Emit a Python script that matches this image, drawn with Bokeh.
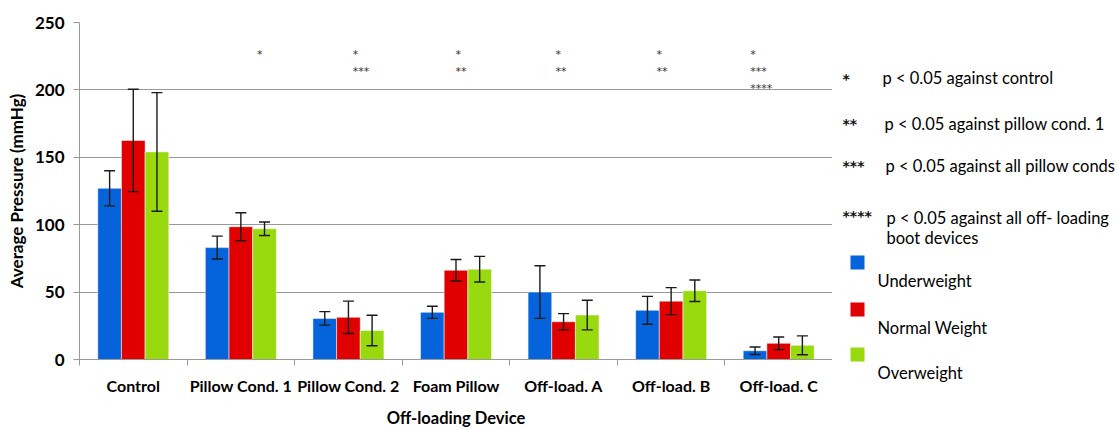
from bokeh.plotting import figure
from bokeh.layouts import row
from bokeh.models import ColumnDataSource, FixedTicker, Whisker, TeeHead, Range1d
from bokeh.transform import dodge
from bokeh.core.properties import value
from bokeh.embed import file_html
from bokeh.resources import INLINE

categories = ["Control", "Pillow Cond. 1", "Pillow Cond. 2", "Foam Pillow",
              "Off-load. A", "Off-load. B", "Off-load. C"]
series = ["Underweight", "Normal Weight", "Overweight"]
under = [127, 83, 30.5, 35, 50, 36.5, 6.5]
under_err = [13, 8.5, 5, 4.5, 19.5, 10.3, 2.8]
normal = [162.5, 98.5, 31.3, 66.2, 28, 43.3, 12]
normal_err = [38, 10.4, 12, 8, 6, 10, 4.7]
over = [154, 97, 21.5, 67, 33, 51, 10.5]
over_err = [44, 5, 11.3, 9.5, 11, 8, 7]
sig_marks = [[], ["*"], ["*", "***"], ["*", "**"], ["*", "**"], ["*", "**"], ["*", "***", "****"]]
notes = [("*", "p < 0.05 against control"),
         ("**", "p < 0.05 against pillow cond. 1"),
         ("***", "p < 0.05 against all pillow conds"),
         ("****", "p < 0.05 against all off- loading", "boot devices")]
y_ticks = [0, 50, 100, 150, 200, 250]

colors = ["#0563DB", "#E00000", "#99DA0E"]
FONT = "Lato"
STAR_FONT = "DejaVu Sans"
W1, W2, H = 832, 285, 430

xc = [i + 0.5 for i in range(len(categories))]
src = ColumnDataSource(dict(
    x=xc, under=under, normal=normal, over=over,
    u_lo=[v - e for v, e in zip(under, under_err)], u_hi=[v + e for v, e in zip(under, under_err)],
    n_lo=[v - e for v, e in zip(normal, normal_err)], n_hi=[v + e for v, e in zip(normal, normal_err)],
    o_lo=[v - e for v, e in zip(over, over_err)], o_hi=[v + e for v, e in zip(over, over_err)],
))

p = figure(width=W1, height=H, output_backend="svg", toolbar_location=None,
           x_range=Range1d(0, len(categories)), y_range=Range1d(0, 250),
           min_border_left=79, min_border_right=0, min_border_top=22, min_border_bottom=H - 363)
p.outline_line_color = None
p.frame_align = False

offsets = [-0.22, 0.0, 0.22]
fields = [("under", "u_lo", "u_hi"), ("normal", "n_lo", "n_hi"), ("over", "o_lo", "o_hi")]
for off, (f, lo, hi), c in zip(offsets, fields, colors):
    p.vbar(x=dodge("x", off, range=p.x_range), top=f, width=0.22, source=src,
           fill_color=c, line_color="#ffffff", line_alpha=0.5, line_width=1)
    p.add_layout(Whisker(source=src, base=dodge("x", off, range=p.x_range), lower=lo, upper=hi,
                         level="overlay", line_color="#1a1a1a", line_width=1.4,
                         upper_head=TeeHead(size=11, line_color="#1a1a1a", line_width=1.4),
                         lower_head=TeeHead(size=11, line_color="#1a1a1a", line_width=1.4)))

# significance marks above groups
mark_x = [None, 1.65, 2.54, 3.495, 4.425, 5.365, 6.235]
mark_y = [226, 213.5, 201]
mx_list, my_list, mt_list = [], [], []
for mx, marks in zip(mark_x, sig_marks):
    for j, m in enumerate(marks):
        mx_list.append(mx); my_list.append(mark_y[j]); mt_list.append(m)
p.text(x=mx_list, y=my_list, text=mt_list, text_font=value(STAR_FONT), text_font_size="11px",
       text_baseline="middle", text_align="left", text_color="#333333")

# axes
p.xaxis.ticker = FixedTicker(ticks=xc, minor_ticks=list(range(len(categories) + 1)))
p.xaxis.major_label_overrides = {x: c for x, c in zip(xc, categories)}
p.xaxis.major_tick_line_color = None
p.xaxis.major_tick_in = 0
p.xaxis.major_tick_out = 6
p.xaxis.minor_tick_in = 0
p.xaxis.minor_tick_out = 6
p.xaxis.minor_tick_line_color = "#999999"
p.xaxis.axis_line_color = "#999999"
p.xaxis.major_label_standoff = 10
p.xaxis.axis_label = "Off-loading Device"
p.xaxis.axis_label_standoff = 10

p.yaxis.ticker = FixedTicker(ticks=y_ticks)
p.yaxis.minor_tick_line_color = None
p.yaxis.major_tick_in = 0
p.yaxis.major_tick_out = 6
p.yaxis.major_tick_line_color = "#999999"
p.yaxis.axis_line_color = "#999999"
p.yaxis.major_label_standoff = 9
p.yaxis.axis_label = "Average Pressure (mmHg)"
p.yaxis.axis_label_standoff = 5

for ax in (p.xaxis, p.yaxis):
    ax.major_label_text_font = FONT
    ax.major_label_text_font_style = "bold"
    ax.major_label_text_color = "#000000"
    ax.axis_label_text_font = FONT
    ax.axis_label_text_font_style = "bold"
    ax.axis_label_text_color = "#000000"
p.xaxis.major_label_text_font_size = "16px"
p.yaxis.major_label_text_font_size = "17px"
p.xaxis.axis_label_text_font_size = "16.5px"
p.yaxis.axis_label_text_font_size = "17px"

p.xgrid.grid_line_color = None
p.ygrid.grid_line_color = "#999999"
p.ygrid.grid_line_width = 1

# side legend as its own panel, in page-pixel coordinates
q = figure(width=W2, height=H, output_backend="svg", toolbar_location=None,
           x_range=Range1d(W1, W1 + W2), y_range=Range1d(H, 0),
           x_axis_type=None, y_axis_type=None, min_border=0)
q.grid.visible = False
q.outline_line_color = None
q.frame_align = False

note_rows = [(78, 77), (123, 123), (165, 165), (215, 217)]
note_text_x = [882, 884, 885, 886]
sx, sy, st, tx_, ty_, tt_ = [], [], [], [], [], []
for (ys, yt), tx, note in zip(note_rows, note_text_x, notes):
    sx.append(842); sy.append(ys); st.append(note[0])
    tx_.append(tx); ty_.append(yt); tt_.append(note[1])
    if len(note) > 2:
        tx_.append(tx); ty_.append(yt + 20); tt_.append(note[2])
q.text(x=sx, y=sy, text=st, text_font=value(STAR_FONT), text_font_size="14px", text_font_style="bold",
       text_baseline="middle", text_color="#111111")
q.text(x=tx_, y=ty_, text=tt_, text_font=value(FONT), text_font_size="16.5px",
       text_baseline="middle", text_color="#000000")

sq_tops = [255, 302, 347]
lab_y = [280, 327, 372]
q.quad(left=[850] * 3, right=[864] * 3, top=sq_tops, bottom=[t + 14 for t in sq_tops],
       fill_color=colors, line_color=None)
q.text(x=[877] * 3, y=lab_y, text=series, text_font=value(FONT), text_font_size="16.5px",
       text_baseline="middle", text_color="#000000")

layout = row(p, q, spacing=0)
open("out.html", "w").write(file_html(layout, INLINE))
